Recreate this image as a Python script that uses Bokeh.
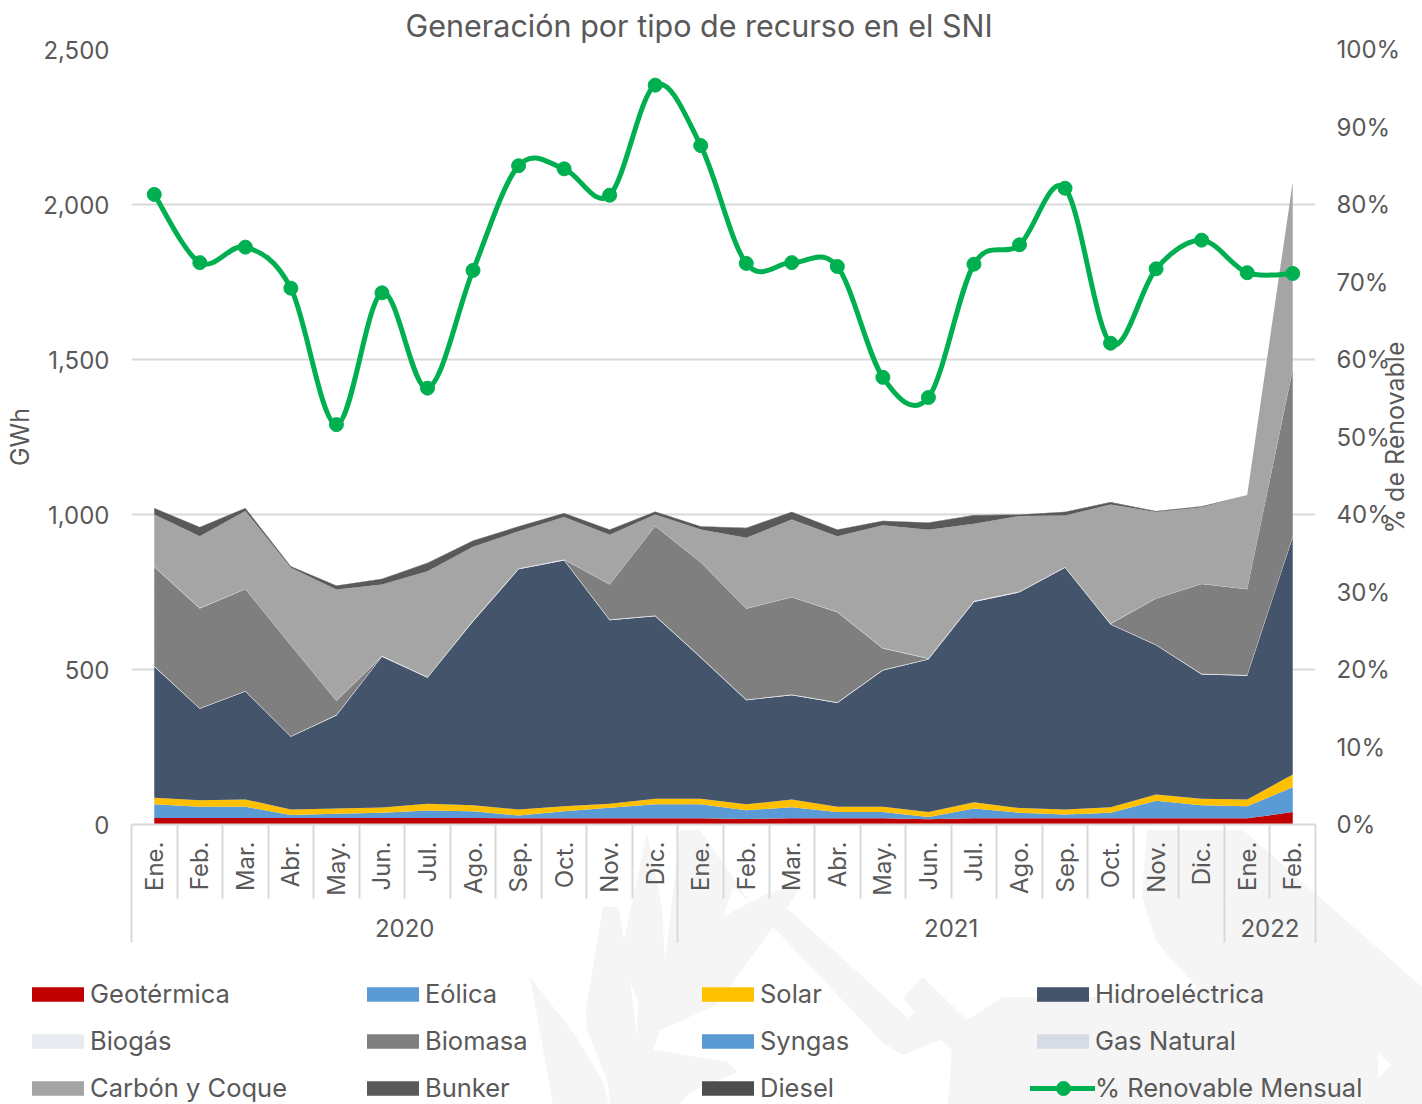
from urllib.parse import quote
from bokeh.embed import file_html
from bokeh.layouts import column
from bokeh.resources import INLINE
from bokeh.plotting import figure
from bokeh.models import (ColumnDataSource, Range1d, LinearAxis, FixedTicker, NumeralTickFormatter,
                          PrintfTickFormatter, Legend, LegendItem, Title, Label)

FONT = "Inter"
TXT = "#595959"
GRID = "#D9D9D9"
M = 0  # page offset of the figure

months = ["Ene.", "Feb.", "Mar.", "Abr.", "May.", "Jun.", "Jul.", "Ago.", "Sep.", "Oct.", "Nov.", "Dic."]
categories = months + months + months[:2]
years = {5.5: "2020", 17.5: "2021", 24.5: "2022"}
year_edges = [-0.5, 11.5, 23.5, 25.5]

geotermica = [21, 21, 21, 21, 21, 21, 21, 21, 20, 20, 20, 20, 20, 18, 20, 20, 20, 17, 20, 20, 20, 20, 20, 20, 20, 40]
eolica = [44, 36, 36, 10, 14, 17, 24, 22, 9, 23, 34, 45, 45, 28, 36, 20, 20, 7, 32, 18, 12, 18, 57, 42, 39, 80]
solar = [21, 21, 24, 17, 17, 17, 22, 19, 19, 16, 13, 18, 18, 19, 25, 17, 17, 16, 20, 15, 16, 18, 20, 21, 22, 41]
hidro = [423, 295, 348, 235, 300, 486, 406, 593, 775, 793, 592, 589, 455, 336, 336, 335, 440, 492, 646, 696, 780, 589, 481, 401, 399, 766]
biogas = [2] * 26
biomasa = [320, 322, 328, 293, 44, 0, 0, 0, 0, 0, 113, 288, 306, 293, 314, 291, 69, 1, 0, 0, 0, 0, 149, 290, 277, 539]
syngas = [0] * 26
gas_natural = [1] * 26
carbon = [168, 232, 251, 249, 359, 230, 341, 238, 120, 137, 160, 37, 105, 228, 250, 244, 396, 415, 249, 243, 166, 384, 278, 246, 301, 596]
bunker = [20, 29, 9, 4, 12, 18, 26, 19, 15, 12, 16, 9, 9, 31, 24, 21, 14, 22, 27, 4, 11, 7, 2, 3, 0, 5]
diesel = [1] * 26
renovable = [81.3, 72.5, 74.5, 69.2, 51.6, 68.6, 56.3, 71.5, 85.0, 84.6, 81.2, 95.4, 87.6, 72.4, 72.5, 72.0,
             57.7, 55.1, 72.3, 74.8, 82.1, 62.1, 71.7, 75.4, 71.2, 71.1]

names = ["Geotérmica", "Eólica", "Solar", "Hidroeléctrica", "Biogás", "Biomasa", "Syngas", "Gas Natural",
         "Carbón y Coque", "Bunker", "Diesel"]
colors = ["#C00000", "#5B9BD5", "#FFC000", "#44546A", "#E7EAEF", "#7F7F7F", "#5B9BD5", "#D6DCE5",
          "#A5A5A5", "#595959", "#4D4D4D"]
green = "#00B050"

x = list(range(len(categories)))
source = ColumnDataSource(dict(x=x, **dict(zip(names, [geotermica, eolica, solar, hidro, biogas, biomasa, syngas,
                                                       gas_natural, carbon, bunker, diesel]))))

W = 1422
H1 = 949
H2 = 155
p = figure(width=W, height=H1, output_backend="svg", toolbar_location=None,
           x_range=Range1d(-0.5, 25.5), y_range=Range1d(0, 2500),
           min_border_left=131, min_border_right=W - 131 - 1184, min_border_top=49, min_border_bottom=H1 - 49 - 775,
           background_fill_alpha=0, border_fill_alpha=0, outline_line_color=None)
p.extra_y_ranges = {"pct": Range1d(0, 100)}

areas = p.varea_stack(stackers=names, x="x", color=colors, source=source)

# Spreadsheet-style smooth line: one cubic segment between consecutive points
cx0 = [x[i] + (x[i + 1] - x[max(i - 1, 0)]) / 6 for i in range(25)]
cy0 = [renovable[i] + (renovable[i + 1] - renovable[max(i - 1, 0)]) / 6 for i in range(25)]
cx1 = [x[i + 1] - (x[min(i + 2, 25)] - x[i]) / 6 for i in range(25)]
cy1 = [renovable[i + 1] - (renovable[min(i + 2, 25)] - renovable[i]) / 6 for i in range(25)]
curve = p.bezier(x0=x[:-1], y0=renovable[:-1], x1=x[1:], y1=renovable[1:], cx0=cx0, cy0=cy0, cx1=cx1, cy1=cy1,
                 line_color=green, line_width=5, line_cap="round", y_range_name="pct")
dots = p.scatter(x, renovable, size=14, color=green, y_range_name="pct")

# grid / left axis
p.yaxis.ticker = FixedTicker(ticks=[0, 500, 1000, 1500, 2000, 2500])
p.yaxis.formatter = NumeralTickFormatter(format="0,0")
p.ygrid.ticker = FixedTicker(ticks=[500, 1000, 1500, 2000, 2500])
p.ygrid.grid_line_color = GRID
p.ygrid.grid_line_width = 2
p.xgrid.visible = False
yax = p.yaxis[0]
yax.axis_label = "GWh"
yax.axis_label_text_font = FONT
yax.axis_label_text_font_style = "normal"
yax.axis_label_text_font_size = "25px"
yax.axis_label_text_color = TXT
yax.axis_label_standoff = 5
yax.major_label_text_font = FONT
yax.major_label_text_font_size = "24px"
yax.major_label_text_color = TXT
yax.major_label_standoff = 22
yax.axis_line_color = None
yax.major_tick_line_color = None
yax.minor_tick_line_color = None
yax.major_tick_out = 0
yax.minor_tick_out = 0

# right axis: tick labels (the blank label with a large negative standoff only trims the panel's reserved width)
rax = LinearAxis(y_range_name="pct", ticker=FixedTicker(ticks=list(range(0, 101, 10))),
                 formatter=PrintfTickFormatter(format="%d%%"))
rax.axis_label = " "
rax.axis_label_text_font_size = "25px"
rax.axis_label_standoff = -60
rax.major_label_text_font = FONT
rax.major_label_text_font_size = "24px"
rax.major_label_text_color = TXT
rax.major_label_standoff = 21
rax.axis_line_color = None
rax.major_tick_line_color = None
rax.minor_tick_line_color = None
rax.major_tick_out = 0
rax.minor_tick_out = 0
p.add_layout(rax, "right")

# right axis title: a label in the side panel, so the frame does not clip it
p.add_layout(Label(x=1394, y=437, x_units="canvas", y_units="canvas", text="% de Renovable", angle=1.5707963,
                   text_font=FONT, text_font_size="25px", text_color=TXT,
                   text_align="center", text_baseline="middle"), "right")

# month axis
xax = p.xaxis[0]
xax.ticker = FixedTicker(ticks=x, minor_ticks=[i - 0.5 for i in range(27)])
xax.major_label_overrides = {i: c for i, c in enumerate(categories)}
xax.major_label_orientation = 1.5707963
xax.major_label_text_font = FONT
xax.major_label_text_font_size = "24px"
xax.major_label_text_color = TXT
xax.major_label_standoff = -57
xax.major_tick_line_color = None
xax.major_tick_out = 0
xax.major_tick_in = 0
xax.minor_tick_out = 74
xax.minor_tick_in = 0
xax.minor_tick_line_color = GRID
xax.minor_tick_line_width = 2
xax.axis_line_color = GRID
xax.axis_line_width = 2

# year axis
yr = LinearAxis(ticker=FixedTicker(ticks=list(years), minor_ticks=year_edges))
yr.major_label_overrides = years
yr.major_label_text_font = FONT
yr.major_label_text_font_size = "24px"
yr.major_label_text_color = TXT
yr.major_label_standoff = -24
yr.major_tick_line_color = None
yr.major_tick_out = 0
yr.major_tick_in = 0
yr.minor_tick_out = 44
yr.minor_tick_in = 0
yr.minor_tick_line_color = GRID
yr.minor_tick_line_width = 2
yr.axis_line_color = None
p.add_layout(yr, "below")

# title
p.title = Title(text="Generación por tipo de recurso en el  SNI", align="left", offset=274, vertical_align="middle",
                text_font=FONT, text_font_size="30.5px", text_font_style="normal", text_color=TXT)

# legend, in a strip of its own under the chart
q = figure(width=W, height=H2, output_backend="svg", toolbar_location=None,
           x_range=Range1d(0, W), y_range=Range1d(0, H2), min_border=0,
           background_fill_alpha=0, border_fill_alpha=0, outline_line_color=None)
q.axis.visible = False
q.grid.visible = False
for fig in (p, q):
    if "frame_align" in fig.properties():
        fig.frame_align = False
items = []
for n, c in zip(names, colors):
    r = q.varea(x=[-9, -9], y1=[-9, -9], y2=[-9, -9], color=c)
    items.append(LegendItem(label=n, renderers=[r]))
l1 = q.line([-9, -9], [-9, -9], line_color=green, line_width=5, line_cap="round")
l2 = q.scatter([-9], [-9], size=14, color=green)
items.append(LegendItem(label="% Renovable Mensual", renderers=[l1, l2]))
legend = Legend(items=items, location=(25, 1), orientation="horizontal", ncols=4,
                glyph_width=65, glyph_height=18, label_standoff=-1, label_width=254, spacing=16,
                padding=0, margin=0, background_fill_alpha=0, border_line_color=None,
                label_text_font=FONT, label_text_font_size="25.5px", label_text_color=TXT)
q.add_layout(legend, "center")
# the legend's own marker is drawn too small: mark its swatch at full size
q.scatter([1063], [16], size=14, color=green)

# faint watermark behind everything
WM = "#F5F5F5"
wm_shapes = [
    ([530, 575, 602, 609, 553], [977, 1035, 1080, 1104, 1104], WM),
    ([603, 618, 624, 647, 662, 665, 680, 700, 750, 770, 803, 787, 908, 915, 903, 923, 970, 1000, 1000, 952, 940, 903, 883,
      773, 717, 660, 653, 727, 738, 690, 680, 610, 608, 587, 586],
     [907, 907, 940, 833, 907, 963, 830, 830, 902, 893, 883, 908, 1018, 1012, 998, 977, 1023, 1030, 1060, 1050, 1040,
      1055, 1043, 927, 1005, 1030, 1050, 1062, 1072, 1092, 1104, 1104, 1083, 1030, 1010], WM),
    ([948, 952, 967, 1003, 1183, 1197, 1157, 1142, 1147, 1243, 1422, 1422],
     [1104, 1050, 1020, 997, 997, 987, 943, 897, 830, 830, 987, 1104], WM),
    ([630, 638, 637], [980, 1003, 1037], "#FFFFFF"),
    ([723, 733, 750], [917, 887, 902], "#FFFFFF"),
    ([1378, 1392, 1378], [1053, 1065, 1078], "#FFFFFF"),
]
polys = "".join(
    '<polygon fill="%s" points="%s"/>' % (c, " ".join("%d,%d" % (a - M, b - M) for a, b in zip(xs, ys)))
    for xs, ys, c in wm_shapes)
svg = '<svg xmlns="http://www.w3.org/2000/svg" width="%d" height="%d">%s</svg>' % (W, H1 + H2, polys)
page = column(p, q, spacing=0, styles={
    "background-image": 'url("data:image/svg+xml,%s")' % quote(svg),
    "background-repeat": "no-repeat"})

open("out.html", "w").write(file_html(page, INLINE))
